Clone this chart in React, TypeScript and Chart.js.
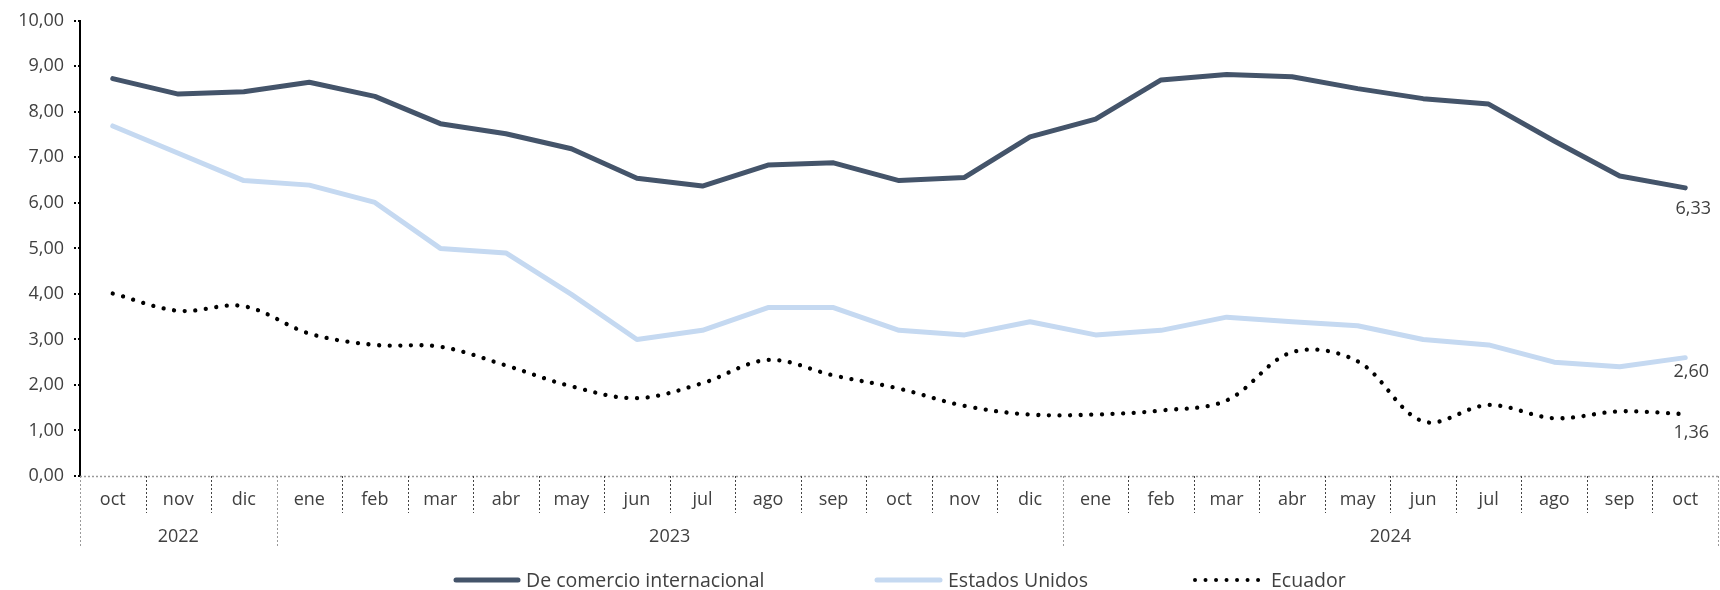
import React, { useEffect, useRef } from "react";
import { Chart, registerables } from "chart.js";

Chart.register(...registerables);

const months = ["oct","nov","dic","ene","feb","mar","abr","may","jun","jul","ago","sep","oct","nov","dic","ene","feb","mar","abr","may","jun","jul","ago","sep","oct"];
const years = [
  { label: "2022", start: 0, end: 2 },
  { label: "2023", start: 3, end: 14 },
  { label: "2024", start: 15, end: 24 },
];
const comercioInternacional = [8.73,8.39,8.44,8.65,8.34,7.74,7.52,7.19,6.54,6.37,6.83,6.88,6.49,6.56,7.45,7.84,8.70,8.82,8.77,8.51,8.29,8.17,7.36,6.59,6.33];
const estadosUnidos = [7.69,7.09,6.49,6.39,6.01,5.00,4.90,3.99,3.00,3.20,3.70,3.70,3.20,3.10,3.39,3.10,3.20,3.49,3.39,3.30,3.00,2.88,2.50,2.40,2.60];
const ecuador = [4.01,3.63,3.73,3.13,2.88,2.84,2.43,1.97,1.71,2.04,2.55,2.21,1.92,1.54,1.35,1.35,1.44,1.66,2.72,2.52,1.20,1.56,1.27,1.42,1.36];
const seriesNames = ["De comercio internacional", "Estados Unidos", "Ecuador"];
const yTicks = [0,1,2,3,4,5,6,7,8,9,10];

const FONT = "'Open Sans', 'Noto Sans', sans-serif";
const TEXT = "#404040";
const DARK = "#44546A";
const LIGHT = "#C5D9F1";
const FS = 18;
const LFS = 19.5;

const fmt = (v: number) => v.toFixed(2).replace(".", ",");

const customPlugin = {
  id: "custom",
  afterDraw(chart: any) {
    const ctx = chart.ctx;
    const area = chart.chartArea;
    const x = chart.scales.x;
    const n = months.length;
    const step = (area.right - area.left) / n;
    const edge = (i: number) => area.left + step * i;
    ctx.save();
    // bottom axis line
    ctx.strokeStyle = "#9a9a9a";
    ctx.lineWidth = 1.5;
    ctx.setLineDash([2, 2]);
    ctx.beginPath();
    ctx.moveTo(area.left, area.bottom + 0.5);
    ctx.lineTo(area.right, area.bottom + 0.5);
    ctx.stroke();
    // separators
    const yearEdges = new Set<number>();
    years.forEach((y) => { yearEdges.add(y.start); });
    yearEdges.add(n);
    for (let i = 0; i <= n; i++) {
      const px = Math.round(edge(i)) + 0.5;
      const isYear = yearEdges.has(i);
      ctx.strokeStyle = isYear ? "#9a9a9a" : "#444";
      ctx.lineWidth = 1;
      ctx.setLineDash([2, 2]);
      ctx.beginPath();
      ctx.moveTo(px, area.bottom);
      ctx.lineTo(px, isYear ? area.bottom + 72 : area.bottom + 37);
      ctx.stroke();
    }
    ctx.setLineDash([]);
    // month labels
    ctx.fillStyle = TEXT;
    ctx.font = `${FS}px ${FONT}`;
    ctx.textAlign = "center";
    ctx.textBaseline = "middle";
    months.forEach((m, i) => {
      ctx.fillText(m, x.getPixelForValue(i), area.bottom + 24);
    });
    years.forEach((y) => {
      const cx = (edge(y.start) + edge(y.end + 1)) / 2;
      ctx.fillText(y.label, cx, area.bottom + 61);
    });
    // end labels
    const yS = chart.scales.y;
    const lastX = x.getPixelForValue(n - 1);
    ctx.textAlign = "center";
    ctx.fillText(fmt(comercioInternacional[n - 1]), lastX + 8, yS.getPixelForValue(comercioInternacional[n - 1]) + 21);
    ctx.fillText(fmt(estadosUnidos[n - 1]), lastX + 6, yS.getPixelForValue(estadosUnidos[n - 1]) + 14);
    ctx.fillText(fmt(ecuador[n - 1]), lastX + 6, yS.getPixelForValue(ecuador[n - 1]) + 19);
    // legend
    const ly = 580;
    const items = [
      { x: 453, w: 68, color: DARK, dotted: false, text: seriesNames[0] },
      { x: 874, w: 69, color: LIGHT, dotted: false, text: seriesNames[1] },
      { x: 1192, w: 74, color: "#000", dotted: true, text: seriesNames[2] },
    ];
    ctx.textAlign = "left";
    ctx.font = `${LFS}px ${FONT}`;
    items.forEach((it) => {
      ctx.strokeStyle = it.color;
      ctx.lineCap = "round";
      if (it.dotted) {
        ctx.lineWidth = 4;
        ctx.setLineDash([0.01, 10.5]);
      } else {
        ctx.lineWidth = 5;
        ctx.setLineDash([]);
      }
      ctx.beginPath();
      ctx.moveTo(it.x + 3, ly);
      ctx.lineTo(it.x + it.w - 3, ly);
      ctx.stroke();
      ctx.setLineDash([]);
      ctx.fillStyle = TEXT;
      ctx.fillText(it.text, it.x + it.w + 5, ly + 1);
    });
    ctx.restore();
  },
};

export default function App() {
  const ref = useRef<HTMLCanvasElement>(null);
  useEffect(() => {
    document.body.style.margin = "0";
    document.body.style.overflow = "hidden";
    const chart = new Chart(ref.current!, {
      type: "line",
      data: {
        labels: months.map((m, i) => `${m}-${i}`),
        datasets: [
          {
            label: seriesNames[0],
            data: comercioInternacional,
            borderColor: DARK,
            borderWidth: 5,
            pointRadius: 0,
            tension: 0,
            borderCapStyle: "round",
            borderJoinStyle: "round",
          },
          {
            label: seriesNames[1],
            data: estadosUnidos,
            borderColor: LIGHT,
            borderWidth: 5,
            pointRadius: 0,
            tension: 0,
            borderCapStyle: "round",
            borderJoinStyle: "round",
          },
          {
            label: seriesNames[2],
            data: ecuador,
            borderColor: "#000",
            borderWidth: 4.3,
            borderDash: [0.01, 10.6],
            borderCapStyle: "round",
            pointRadius: 0,
            tension: 0.35,
          },
        ] as any,
      },
      options: {
        animation: false,
        responsive: false,
        maintainAspectRatio: false,
        events: [],
        layout: { padding: { top: 19, right: 2, bottom: 114, left: 0 } },
        plugins: { legend: { display: false }, tooltip: { enabled: false } },
        scales: {
          x: {
            display: false,
            offset: true,
          },
          y: {
            min: 0,
            max: 10,
            afterFit: (s: any) => { s.width = 80; },
            afterBuildTicks: (s: any) => { s.ticks = yTicks.map((v) => ({ value: v })); },
            ticks: {
              color: TEXT,
              font: { family: FONT, size: FS },
              padding: 10,
              callback: (v: any) => fmt(Number(v)),
            },
            grid: {
              drawOnChartArea: false,
              drawTicks: true,
              tickLength: 6,
              color: "#000",
              lineWidth: 2,
              tickBorderDash: [2, 2],
            },
            border: { display: true, color: "#000", width: 2, dash: [2, 2] },
          },
        },
      },
      plugins: [customPlugin],
    });
    return () => chart.destroy();
  }, []);
  return <canvas ref={ref} width={1720} height={590} style={{ display: "block" }} />;
}
